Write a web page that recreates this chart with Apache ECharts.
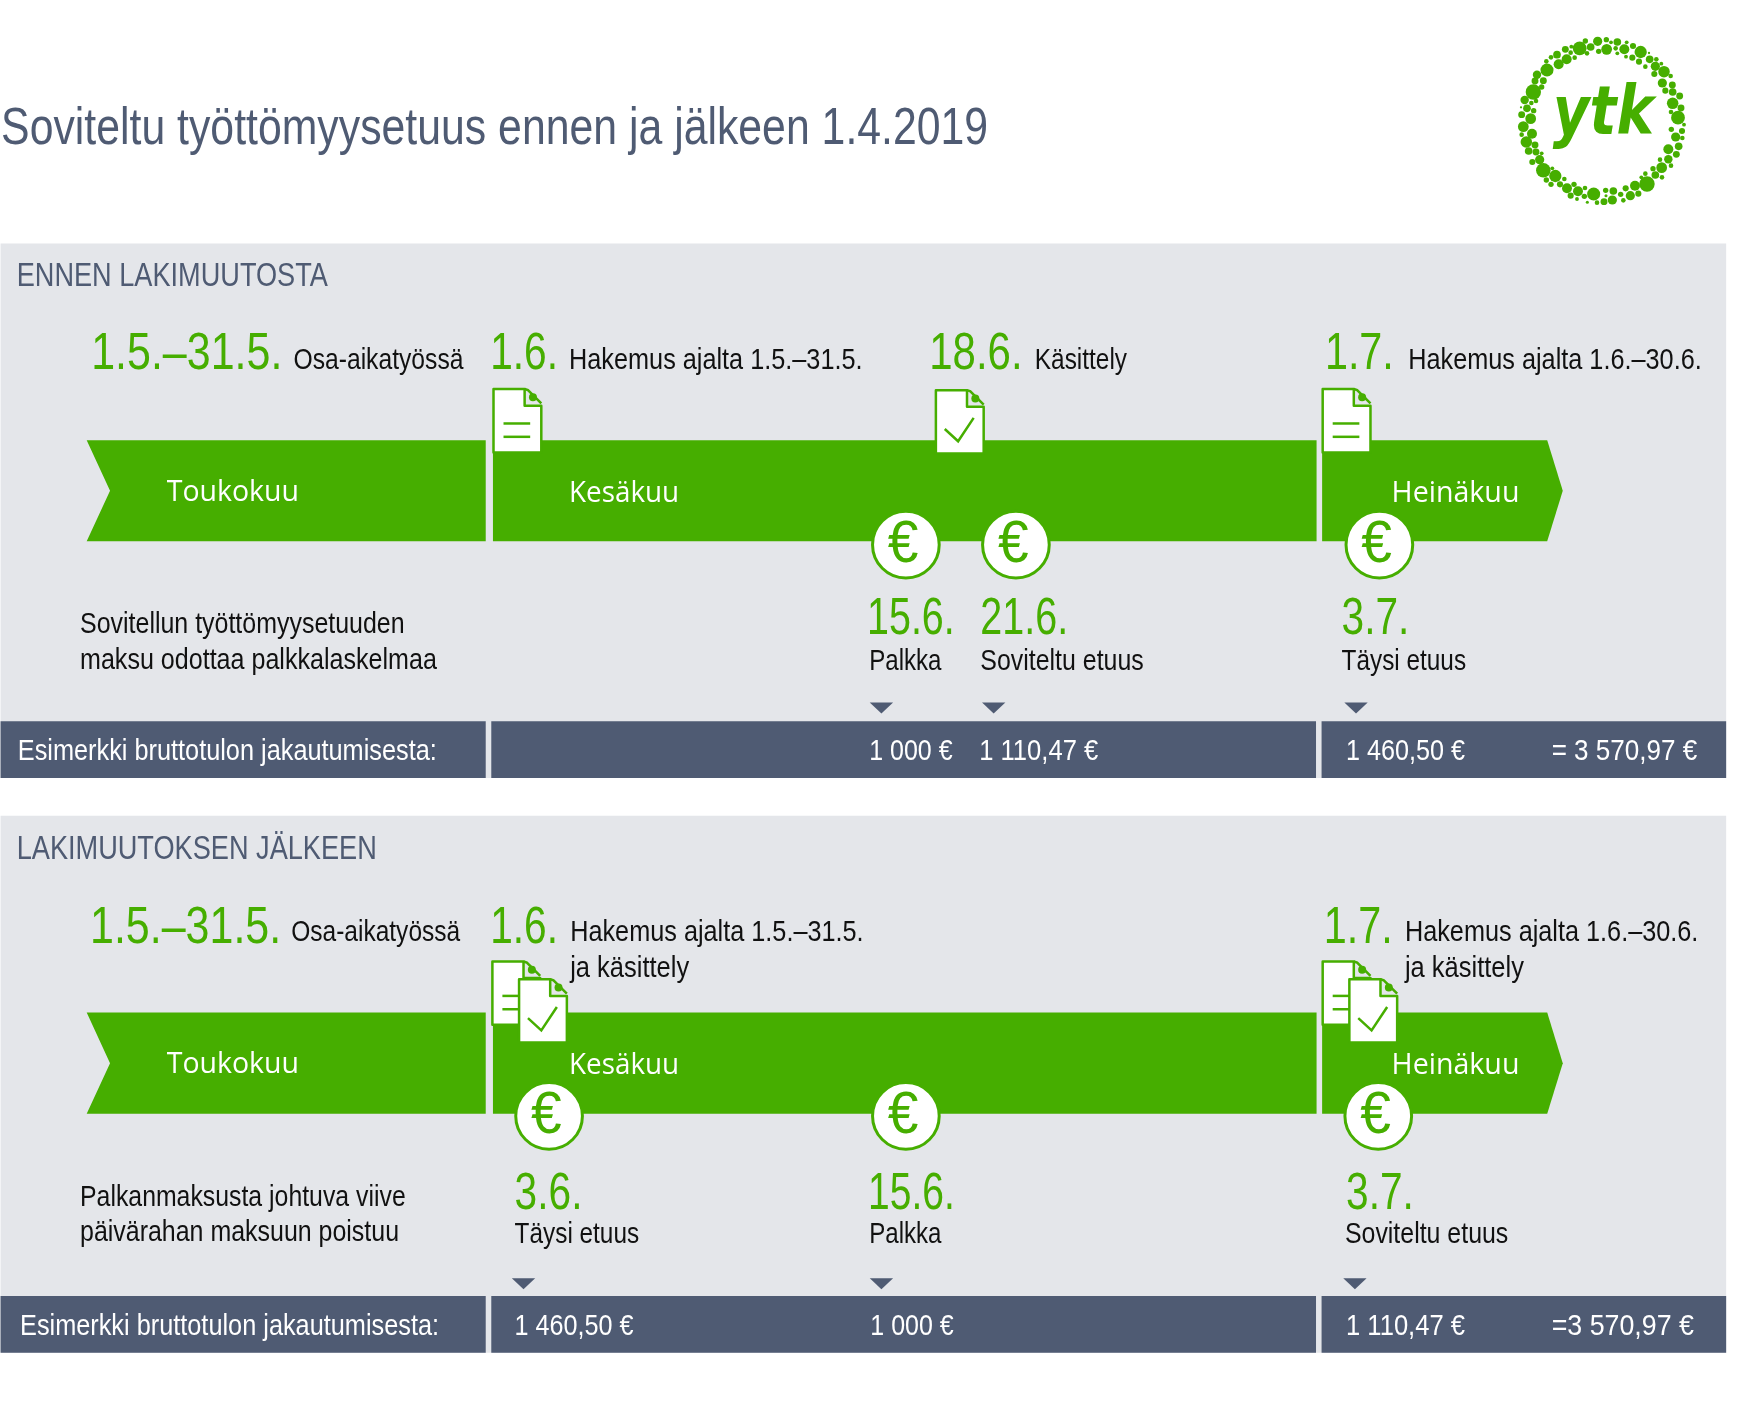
<!DOCTYPE html>
<html>
<head>
<meta charset="utf-8">
<title>Soviteltu työttömyysetuus</title>
<style>html,body{margin:0;padding:0;background:#fff}</style>
<script src="https://cdn.jsdelivr.net/npm/echarts@6/dist/echarts.min.js"></script>
</head>
<body>
<div id="main" style="width:1743px;height:1419px"></div>
<script>
var myChart = echarts.init(document.getElementById('main'));
var S = 1.1115;  // piirtoyksikko -> pikseli
var GREEN = '#46ae00', SLATE = '#4f5b73', PANEL = '#e4e6ea', INK = '#111111';
var LIGHT = '400 {s}px "Liberation Sans"', MONTH = '400 {s}px "Open Sans"';

// kaikki tekstit: teksti, x1, x2, perusviiva, koko, vari, fontti
var texts = [
    ['Soviteltu työttömyysetuus ennen ja jälkeen 1.4.2019', 1, 889, 131, 52, SLATE, LIGHT],
    // ennen lakimuutosta
    ['ENNEN LAKIMUUTOSTA', 15, 295, 259, 33, SLATE, LIGHT],
    ['1.5.–31.5.', 82, 254, 332, 52, GREEN, LIGHT],
    ['Osa-aikatyössä', 264, 417, 331, 30, INK, LIGHT],
    ['1.6.', 441, 502, 332, 52, GREEN, LIGHT],
    ['Hakemus ajalta 1.5.–31.5.', 512, 776, 331, 30, INK, LIGHT],
    ['18.6.', 836, 920, 332, 52, GREEN, LIGHT],
    ['Käsittely', 931, 1014, 331, 30, INK, LIGHT],
    ['1.7.', 1192, 1254, 332, 52, GREEN, LIGHT],
    ['Hakemus ajalta 1.6.–30.6.', 1267, 1531, 331, 30, INK, LIGHT],
    ['Sovitellun työttömyysetuuden', 72, 364, 569, 30, INK, LIGHT],
    ['maksu odottaa palkkalaskelmaa', 72, 393, 601, 30, INK, LIGHT],
    ['15.6.', 780, 859, 570, 52, GREEN, LIGHT],
    ['21.6.', 882, 961, 570, 52, GREEN, LIGHT],
    ['3.7.', 1207, 1268, 570, 52, GREEN, LIGHT],
    ['Palkka', 782, 847, 602, 30, INK, LIGHT],
    ['Soviteltu etuus', 882, 1029, 602, 30, INK, LIGHT],
    ['Täysi etuus', 1207, 1319, 602, 30, INK, LIGHT],
    // lakimuutoksen jalkeen
    ['LAKIMUUTOKSEN JÄLKEEN', 15, 339, 774, 33, SLATE, LIGHT],
    ['1.5.–31.5.', 81, 253, 848, 52, GREEN, LIGHT],
    ['Osa-aikatyössä', 262, 414, 846, 30, INK, LIGHT],
    ['1.6.', 441, 502, 848, 52, GREEN, LIGHT],
    ['Hakemus ajalta 1.5.–31.5.', 513, 777, 846, 30, INK, LIGHT],
    ['ja käsittely', 513, 620, 878, 30, INK, LIGHT],
    ['1.7.', 1191, 1253, 848, 52, GREEN, LIGHT],
    ['Hakemus ajalta 1.6.–30.6.', 1264, 1528, 846, 30, INK, LIGHT],
    ['ja käsittely', 1264, 1371, 878, 30, INK, LIGHT],
    ['Palkanmaksusta johtuva viive', 72, 365, 1084, 30, INK, LIGHT],
    ['päivärahan maksuun poistuu', 72, 359, 1116, 30, INK, LIGHT],
    ['3.6.', 463, 524, 1087, 52, GREEN, LIGHT],
    ['15.6.', 781, 859, 1087, 52, GREEN, LIGHT],
    ['3.7.', 1211, 1272, 1087, 52, GREEN, LIGHT],
    ['Täysi etuus', 463, 575, 1118, 30, INK, LIGHT],
    ['Palkka', 782, 847, 1118, 30, INK, LIGHT],
    ['Soviteltu etuus', 1210, 1357, 1118, 30, INK, LIGHT]
];

// esimerkkisummat alarivilla
var amounts = [
    ['Esimerkki bruttotulon jakautumisesta:', 16, 393, 683],
    ['1 000 €', 782, 857, 683],
    ['1 110,47 €', 881, 988, 683],
    ['1 460,50 €', 1211, 1318, 683],
    ['= 3 570,97 €', 1396, 1527, 683],
    ['Esimerkki bruttotulon jakautumisesta:', 18, 395, 1200],
    ['1 460,50 €', 463, 570, 1200],
    ['1 000 €', 783, 858, 1200],
    ['1 110,47 €', 1211, 1318, 1200],
    ['=3 570,97 €', 1396, 1524, 1200]
];

var months = [
    ['Toukokuu', 150, 269, 451], ['Kesäkuu', 512, 611, 452], ['Heinäkuu', 1252, 1367, 452],
    ['Toukokuu', 150, 269, 966], ['Kesäkuu', 512, 611, 967], ['Heinäkuu', 1252, 1367, 967]
];

var panels = [[0.5, 219, 700, 396, 487, 649], [0.5, 734, 1217, 911, 1002, 1166]];
var euros = [[815, 490], [914, 490], [1241, 490], [494, 1004], [815, 1004], [1240, 1004]];
var markers = [[793, 632], [894, 632], [1220, 632], [471, 1150], [793, 1150], [1219, 1150]];
var docs = [[444, 350, 'doc'], [842, 351, 'check'], [1190, 350, 'doc'],
    [443, 865, 'doc'], [467, 881, 'check'], [1190, 865, 'doc'], [1214, 881, 'check']];

// logon pallot: x, y, sade (luettu logon kuvasta)
var logoDots = [[293,64,12],[319,59,7],[352,66,10],[333,67,5],[320,88,14],[296,94,7],[272,81,10],[256,63,7],[239,85,18],[261,100,6],
    [214,80,5],[196,88,9],[212,98,6],[224,113,6],[200,118,13],[171,104,10],[153,112,6],[176,133,13],[139,124,6],[141,150,17],
    [111,164,11],[130,182,9],[105,183,9],[125,201,7],[100,216,20],[74,240,11],[108,243,6],[94,249,6],[81,265,10],[63,262,3],
    [101,272,7],[65,284,9],[92,296,14],[70,320,14],[96,341,13],[65,344,6],[79,366,15],[105,375,9],[86,393,10],[108,396,9],
    [125,400,5],[97,426,8],[119,419,12],[130,451,19],[157,445,5],[166,468,16],[139,480,7],[153,493,7],[180,493,8],[193,477,6],
    [222,493,7],[201,505,13],[234,514,13],[212,527,8],[255,504,6],[231,537,5],[253,529,7],[281,522,17],[262,547,4],[291,548,6],
    [312,545,9],[337,540,12],[317,511,7],[340,513,10],[318,527,4],[362,523,7],[370,541,6],[377,505,8],[391,527,12],[405,497,13],
    [415,521,8],[441,492,20],[436,461,6],[424,472,5],[459,446,7],[466,465,10],[485,443,14],[486,472,6],[505,418,11],[480,419,6],
    [513,437,6],[529,403,9],[505,388,13],[536,379,10],[527,351,12],[547,354,6],[514,328,7],[546,333,8],[534,293,18],[552,314,5],
    [513,276,6],[543,264,9],[518,250,15],[539,228,9],[496,212,8],[518,216,10],[487,189,12],[517,195,9],[512,168,6],[492,155,15],
    [463,162,8],[466,139,12],[484,131,5],[436,140,6],[449,118,10],[469,118,6],[417,125,8],[397,113,8],[422,96,16],[447,99,3],
    [399,78,8],[373,88,13],[347,85,6],[352,100,5],[380,67,5],[378,110,5]];

var measure = document.createElement('canvas').getContext('2d');

// piirtolista custom-sarjalle
var shapes = [];
function poly(points, fill, stroke, lw) { shapes.push({t: 'poly', p: points, fill: fill, stroke: stroke, lw: lw}); }
function line(points, color, lw) { shapes.push({t: 'line', p: points, color: color, lw: lw}); }
function text(row) { shapes.push({t: 'text', row: row}); }
function rect(x1, y1, x2, y2, c) { poly([[x1, y1], [x2, y1], [x2, y2], [x1, y2]], c); }

panels.forEach(function (p) {
    var x = p[0], top = p[1], bot = p[2], t = p[3], b = p[4], c = p[5], mid = (t + b) / 2;
    rect(x, top, 1553, bot, PANEL);
    rect(x, c, 437, bot, SLATE);
    rect(442, c, 1184, bot, SLATE);
    rect(1189, c, 1553, bot, SLATE);
    poly([[78, t], [437, t], [437, b], [78, b], [99, mid]], GREEN);
    rect(443.5, t, 1184.5, b, GREEN);
    poly([[1189.5, t], [1392, t], [1406, mid], [1392, b], [1189.5, b]], GREEN);
});
months.forEach(function (m) { text([m[0], m[1], m[2], m[3], 30, '#ffffff', MONTH]); });
amounts.forEach(function (a) { text([a[0], a[1], a[2], a[3], 30, '#ffffff', LIGHT]); });
markers.forEach(function (m) {
    poly([[m[0] - 10.5, m[1]], [m[0] + 10.5, m[1]], [m[0], m[1] + 10]], SLATE);
});
docs.forEach(function (d) {
    var x = d[0], y = d[1];
    function at(a, b) { return [x + a, y + b]; }
    poly([at(0, 0), at(28, 0), at(28, 15), at(43, 15), at(43, 57), at(0, 57)], '#ffffff', GREEN, 2.5);
    line([at(28, 0), at(31, 1), at(43, 13)], GREEN, 2.5);
    shapes.push({t: 'circle', c: at(35.5, 7.5), r: 3.6, fill: GREEN});
    if (d[2] == 'doc') {
        line([at(9, 31), at(33, 31)], GREEN, 2.5);
        line([at(9, 43), at(33, 43)], GREEN, 2.5);
    } else {
        line([at(8, 35), at(20, 46), at(34, 25)], GREEN, 2.5);
    }
});
euros.forEach(function (e) {
    shapes.push({t: 'circle', c: e, r: 30, fill: '#ffffff', stroke: GREEN, lw: 3});
    shapes.push({t: 'euro', c: e});
});
texts.forEach(text);
text(['ytk', 1397, 1488, 124, 68, GREEN, 'italic 700 {s}px "DejaVu Sans"']);

function pts(api, list) {
    return list.map(function (q) { return api.coord(q); });
}

// fontin keskilinjan ja perusviivan ero koon mukaan
function baseShift(r) {
    if (r[6] == MONTH) return 0.31;
    if (r[5] == GREEN && r[4] == 52) return 0.27;
    if (r[4] >= 50) return 0.31;
    if (r[4] == 33) return 0.33;
    return 0.25;
}

function renderItem(params, api) {
    var s = shapes[params.dataIndex];
    if (s.t == 'poly') {
        return {type: 'polygon', shape: {points: pts(api, s.p)},
            style: {fill: s.fill, stroke: s.stroke || null, lineWidth: s.lw || 0, lineJoin: 'round'}};
    }
    if (s.t == 'line') {
        return {type: 'polyline', shape: {points: pts(api, s.p)},
            style: {fill: null, stroke: s.color, lineWidth: s.lw}};
    }
    if (s.t == 'circle') {
        var c = api.coord(s.c);
        return {type: 'circle', shape: {cx: c[0], cy: c[1], r: s.r * S},
            style: {fill: s.fill, stroke: s.stroke || null, lineWidth: s.lw || 0}};
    }
    if (s.t == 'euro') {
        var e = api.coord(s.c);
        return {type: 'text', x: e[0] - 18, y: e[1] + 1, scaleX: 0.92,
            style: {text: '€', fill: GREEN, font: '400 60px "Liberation Sans"', align: 'left', verticalAlign: 'middle'}};
    }
    var r = s.row, font = r[6].replace('{s}', r[4]), start = api.coord([r[1], r[3]]);
    measure.font = font;
    var k = (r[2] - r[1]) * S / measure.measureText(r[0]).width;
    return {type: 'text', x: start[0], y: start[1] - r[4] * baseShift(r), scaleX: k,
        style: {text: r[0], fill: r[5], font: font, align: 'left', verticalAlign: 'middle'}};
}

myChart.setOption({
    animation: false,
    grid: {left: 0, right: 0, top: 0, bottom: 0},
    xAxis: {type: 'value', min: 0, max: 1743 / S, show: false},
    yAxis: {type: 'value', min: 0, max: 1419 / S, inverse: true, show: false},
    series: [
        {
            type: 'custom',
            silent: true,
            clip: false,
            renderItem: renderItem,
            data: shapes.map(function () { return [0, 0]; })
        },
        {
            // logo
            type: 'scatter',
            silent: true,
            symbol: 'circle',
            itemStyle: {color: GREEN, opacity: 1},
            symbolSize: function (v) { return v[2] * 2.3 / 3; },
            data: logoDots.map(function (d) {
                return [(1500 + d[0] / 3) / S, (20 + d[1] / 3) / S, d[2]];
            })
        }
    ]
});
</script>
</body>
</html>
